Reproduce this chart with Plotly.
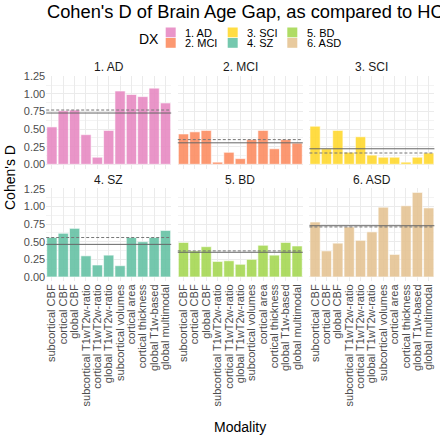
import numpy as np
import plotly.graph_objects as go

# ---------------- data ----------------
modalities = ["subcortical CBF", "cortical CBF", "global CBF",
              "subcortical T1wT2w-ratio", "cortical T1wT2w-ratio", "global T1wT2w-ratio",
              "subcortical volumes", "cortical area", "cortical thickness",
              "global T1w-based", "global multimodal"]
groups = ["1. AD", "2. MCI", "3. SCI", "4. SZ", "5. BD", "6. ASD"]

d_AD = [0.53, 0.76, 0.77, 0.42, 0.10, 0.48, 1.04, 0.99, 0.96, 1.08, 0.87]
d_MCI = [0.43, 0.46, 0.48, 0.03, 0.17, 0.08, 0.35, 0.48, 0.22, 0.35, 0.30]
d_SCI = [0.54, 0.22, 0.48, 0.17, 0.39, 0.13, 0.10, 0.10, 0.03, 0.10, 0.16]
d_SZ = [0.56, 0.62, 0.69, 0.30, 0.17, 0.31, 0.16, 0.56, 0.50, 0.56, 0.66]
d_BD = [0.49, 0.37, 0.43, 0.22, 0.23, 0.18, 0.25, 0.45, 0.31, 0.49, 0.44]
d_ASD = [0.78, 0.37, 0.48, 0.71, 0.52, 0.64, 0.99, 0.32, 1.01, 1.20, 0.98]
values = [d_AD, d_MCI, d_SCI, d_SZ, d_BD, d_ASD]

colors = ["#E78AC3", "#FC8D62", "#FFD92F", "#66C2A5", "#A6D854", "#E5C494"]

# ---------------- layout helpers (pixels) ----------------
W, H = 440, 438
def fx(px):
    return px / W
def fy(py):
    return 1 - py / H

x_dom_px = [(46.2, 171.2), (177.8, 302.8), (309.4, 434.4)]
y_dom_px = [(75.5, 168.5), (188.2, 281.2)]
YR = [-0.06, 1.26]
FONT = "Liberation Sans, Arial, sans-serif"
GRID = "#EBEBEB"

fig = go.Figure()
shapes = []
annotations = []

for i, (g, vals, col) in enumerate(zip(groups, values, colors)):
    r, c = divmod(i, 3)
    n = i + 1
    sfx = "" if n == 1 else str(n)
    xa, ya = "x" + sfx, "y" + sfx
    fig.add_trace(go.Bar(
        x=modalities, y=vals, xaxis=xa, yaxis=ya, width=0.9,
        marker=dict(color=col, opacity=0.9, line=dict(color="white", width=0.6)),
        showlegend=False, name=g))
    x0, x1 = x_dom_px[c]
    ytop, ybot = y_dom_px[r]
    fig.layout["xaxis" + sfx] = dict(
        domain=[fx(x0), fx(x1)], anchor=ya, type="category",
        categoryorder="array", categoryarray=modalities, range=[-0.5, 10.5],
        tickmode="array", tickvals=modalities, ticktext=modalities,
        showticklabels=(r == 1), tickangle=-90, ticks="", automargin=False,
        tickfont=dict(family=FONT, size=11, color="#4D4D4D"),
        showgrid=True, gridcolor=GRID, gridwidth=1, zeroline=False, showline=False)
    fig.layout["yaxis" + sfx] = dict(
        domain=[fy(ybot), fy(ytop)], anchor=xa, range=YR, autorange=False,
        tickmode="linear", tick0=0, dtick=0.25, tickformat=".2f", ticks="",
        showticklabels=(c == 0), automargin=False,
        tickfont=dict(family=FONT, size=11, color="#4D4D4D"),
        showgrid=True, gridcolor=GRID, gridwidth=1, zeroline=False, showline=False,
        minor=dict(tick0=0.125, dtick=0.25, showgrid=True, gridcolor="#F3F3F3", gridwidth=0.6))
    mean_v = float(np.mean(vals))
    med_v = float(np.median(vals))
    shapes.append(dict(type="line", xref=xa + " domain", yref=ya, x0=0, x1=1,
                       y0=mean_v, y1=mean_v, line=dict(color="#666666", width=1)))
    shapes.append(dict(type="line", xref=xa + " domain", yref=ya, x0=0, x1=1,
                       y0=med_v, y1=med_v, line=dict(color="#777777", width=1, dash="3px,2px")))
    # strip label
    annotations.append(dict(text=g, xref="paper", yref="paper",
                            x=fx((x0 + x1) / 2), y=fy(ytop - 8.5), xanchor="center", yanchor="middle",
                            showarrow=False, font=dict(family=FONT, size=12, color="#1A1A1A")))

# title
annotations.append(dict(text="Cohen's D of Brain Age Gap, as compared to HC", xref="paper", yref="paper",
                        x=fx(44.5), y=fy(11), xanchor="left", yanchor="middle", showarrow=False,
                        font=dict(family=FONT, size=18.3, color="black")))
# axis titles
annotations.append(dict(text="Modality", xref="paper", yref="paper", x=fx(240), y=fy(426.5),
                        xanchor="center", yanchor="middle", showarrow=False,
                        font=dict(family=FONT, size=14, color="black")))
annotations.append(dict(text="Cohen's D", xref="paper", yref="paper", x=fx(10), y=fy(178),
                        xanchor="center", yanchor="middle", showarrow=False, textangle=-90,
                        font=dict(family=FONT, size=14, color="black")))

# legend (manual, 3 columns x 2 rows, column-major order)
annotations.append(dict(text="DX", xref="paper", yref="paper", x=fx(136.5), y=fy(39.5),
                        xanchor="left", yanchor="middle", showarrow=False,
                        font=dict(family=FONT, size=14, color="black")))
key_x = [165.7, 227.7, 287.3]
lab_x = [183.0, 244.8, 304.8]
key_y = [27.5, 38.0]
for i, (g, col) in enumerate(zip(groups, colors)):
    c, r = divmod(i, 2)
    kx, ky = key_x[c], key_y[r]
    shapes.append(dict(type="rect", xref="paper", yref="paper",
                       x0=fx(kx), x1=fx(kx + 10), y0=fy(ky + 9.8), y1=fy(ky),
                       fillcolor=col, opacity=0.9, line=dict(width=0)))
    annotations.append(dict(text=g, xref="paper", yref="paper", x=fx(lab_x[c]), y=fy(ky + 5),
                            xanchor="left", yanchor="middle", showarrow=False,
                            font=dict(family=FONT, size=11, color="black")))

fig.update_layout(
    template="none",
    width=W, height=H, margin=dict(l=0, r=0, t=0, b=0, pad=0),
    paper_bgcolor="white", plot_bgcolor="white",
    bargap=0.1, shapes=shapes, annotations=annotations,
    font=dict(family=FONT), showlegend=False)

fig.write_html(
    "out.html",
    config={"displayModeBar": False},
    post_script="document.body.style.margin='0';document.body.style.overflow='hidden';",
)
